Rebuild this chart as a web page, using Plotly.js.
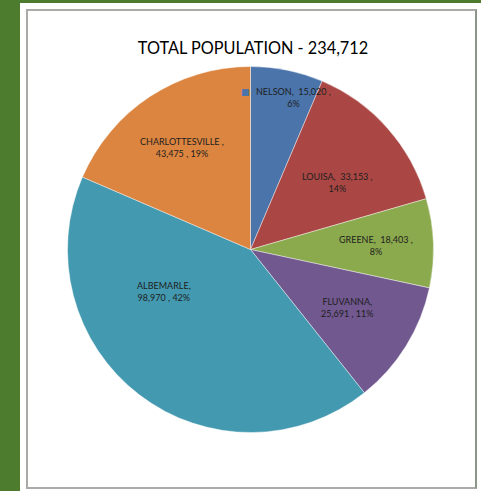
<!DOCTYPE html>
<html>
<head>
<meta charset="utf-8">
<script src="https://cdn.plot.ly/plotly-3.0.1.min.js"></script>
<style>
html,body{margin:0;padding:0;width:481px;height:491px;overflow:hidden;background:#4e7c2e;}
#sheet{position:absolute;left:20px;top:3px;width:461px;height:488px;background:#ffffff;}
#frame{position:absolute;left:26px;top:9px;width:447px;height:476px;border:2px solid #a9aca6;border-right-color:#8a9688;}
#chart{position:absolute;left:0;top:0;width:481px;height:491px;}
</style>
</head>
<body>
<div id="sheet"></div>
<div id="frame"></div>
<div id="chart"></div>
<script>
// ---- data ----
const categories = ["NELSON", "LOUISA", "GREENE", "FLUVANNA", "ALBEMARLE", "CHARLOTTESVILLE"];
const populations = [15020, 33153, 18403, 25691, 98970, 43475];
const titleText = "TOTAL POPULATION - 234,712";

// ---- styles ----
const sliceColors = ["#4a74aa", "#aa4744", "#8ba94d", "#71588f", "#4399b0", "#db8540"];
// label placement: [angle clockwise from 12 o'clock (deg), fraction of radius], and line-break style
const labelPlace = [[15.7, 0.864], [52.4, 0.60], [88.2, 0.685], [120.8, 0.617], [244.4, 0.527], [326.2, 0.668]];
const labelBreakAfterName = [false, false, false, true, true, true];
const nameSep = [",  ", ",  ", ",  ", ",", ",", " ,"];

const W = 481, H = 491;
const cx = 250.5, cy = 249.5, R = 183;
const dom = {
  x: [(cx - R) / W, (cx + R) / W],
  y: [(H - cy - R) / H, (H - cy + R) / H]
};

const total = populations.reduce((a, b) => a + b, 0);
const fmt = v => v.toLocaleString("en-US");

const annotations = categories.map((c, i) => {
  const pct = Math.round(populations[i] / total * 100) + "%";
  let txt;
  if (labelBreakAfterName[i]) {
    txt = c + nameSep[i] + "<br>" + fmt(populations[i]) + " , " + pct;
  } else {
    txt = c + nameSep[i] + fmt(populations[i]) + " ,<br>" + pct;
  }
  const a = labelPlace[i][0] * Math.PI / 180, f = labelPlace[i][1];
  const px = cx + Math.sin(a) * R * f, py = cy - Math.cos(a) * R * f;
  return {
    x: px / W, y: 1 - py / H, xref: "paper", yref: "paper",
    xanchor: "center", yanchor: "middle", align: "center",
    showarrow: false, text: txt,
    font: {family: "Lato, 'Liberation Sans', sans-serif", size: 9, color: "#1e1e1e"}
  };
});
// legend key beside the first label
annotations.push({
  x: 245.8 / W, y: 1 - 92 / H, xref: "paper", yref: "paper",
  xanchor: "center", yanchor: "middle", showarrow: false,
  text: "■", font: {family: "DejaVu Sans", size: 9, color: sliceColors[0]}
});

const trace = {
  type: "pie",
  labels: categories,
  values: populations,
  sort: false,
  direction: "clockwise",
  rotation: 0,
  domain: dom,
  marker: {colors: sliceColors, line: {color: "rgba(255,255,255,0.7)", width: 0.6}},
  textinfo: "none",
  hoverinfo: "label+value+percent",
  showlegend: false
};

const layout = {
  width: W, height: H,
  margin: {l: 0, r: 0, t: 0, b: 0},
  paper_bgcolor: "rgba(0,0,0,0)",
  plot_bgcolor: "rgba(0,0,0,0)",
  showlegend: false,
  title: {
    text: titleText,
    x: 253 / W, xanchor: "center",
    y: 1 - 48 / H, yanchor: "middle",
    xref: "paper", yref: "paper",
    font: {family: "Lato, 'Liberation Sans', sans-serif", size: 16.3, color: "#000000"}
  },
  annotations: annotations
};

Plotly.newPlot("chart", [trace], layout, {displayModeBar: false, staticPlot: true});
</script>
</body>
</html>
